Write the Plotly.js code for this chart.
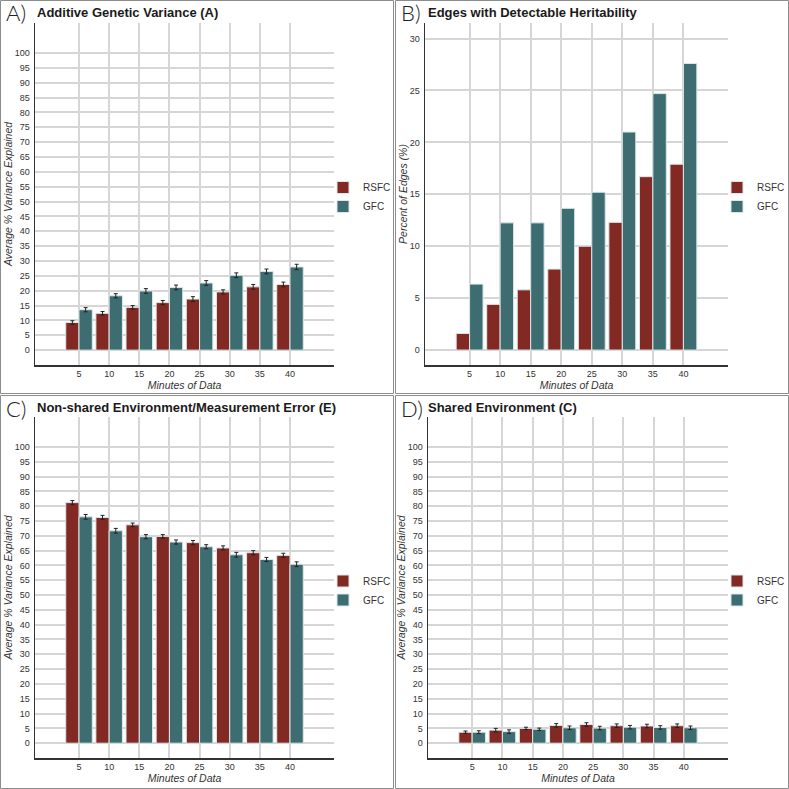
<!DOCTYPE html>
<html>
<head>
<meta charset="utf-8">
<script src="https://cdn.plot.ly/plotly-3.0.1.min.js"></script>
<style>html,body{margin:0;padding:0;background:#fff}#chart{width:789px;height:789px}</style>
</head>
<body>
<div id="chart"></div>
<script>
// ---- data ----
const minutes = ['5','10','15','20','25','30','35','40'];
const seriesNames = ['RSFC','GFC'];

const addA_rsfc = [9.3, 12.4, 14.4, 16.0, 17.2, 19.6, 21.3, 22.1];
const addA_gfc  = [13.6, 18.3, 19.9, 21.1, 22.6, 25.2, 26.5, 28.0];
const addA_rsfc_err = [0.6, 0.6, 0.6, 0.7, 0.8, 0.7, 0.8, 0.8];
const addA_gfc_err  = [0.7, 0.7, 0.8, 0.8, 0.8, 0.8, 0.8, 0.9];

const edges_rsfc = [1.6, 4.4, 5.8, 7.8, 10.0, 12.3, 16.7, 17.9];
const edges_gfc  = [6.35, 12.25, 12.25, 13.65, 15.2, 21.0, 24.7, 27.6];

const envE_rsfc = [81.2, 76.2, 73.7, 69.8, 67.7, 65.9, 64.3, 63.4];
const envE_gfc  = [76.4, 71.7, 69.7, 67.9, 66.3, 63.6, 62.0, 60.4];
const envE_rsfc_err = [0.7, 0.7, 0.6, 0.6, 0.7, 0.7, 0.7, 0.7];
const envE_gfc_err  = [0.8, 0.8, 0.7, 0.7, 0.7, 0.8, 0.7, 0.8];

const envC_rsfc = [3.7, 4.4, 5.0, 6.0, 6.3, 5.9, 5.8, 5.9];
const envC_gfc  = [3.7, 3.9, 4.7, 5.2, 5.1, 5.4, 5.3, 5.2];
const envC_rsfc_err = [0.4, 0.6, 0.4, 0.6, 0.6, 0.6, 0.6, 0.6];
const envC_gfc_err  = [0.5, 0.6, 0.4, 0.6, 0.6, 0.6, 0.6, 0.6];

const panelLetters = ['A)','B)','C)','D)'];
const panelTitles = ['Additive Genetic Variance (A)','Edges with Detectable Heritability',
  'Non-shared Environment/Measurement Error (E)','Shared Environment (C)'];
const yTitles = ['Average % Variance Explained','Percent of Edges (%)',
  'Average % Variance Explained','Average % Variance Explained'];
const xTitle = 'Minutes of Data';
const ticks100 = [0,5,10,15,20,25,30,35,40,45,50,55,60,65,70,75,80,85,90,95,100];
const ticks30 = [0,5,10,15,20,25,30];

// ---- styling ----
const W = 789, H = 789;
const px = v => v / W;
const py = v => 1 - v / H;
const RED = '#812922', TEAL = '#3d6d70';
const FONT = 'Liberation Sans, Arial, sans-serif';

const panels = [
  {x0:35, x1:334, y0:23, y1:365},
  {x0:425, x1:728, y0:23, y1:365},
  {x0:35, x1:334, y0:417, y1:758},
  {x0:428, x1:728, y0:417, y1:758}
];

const data = [];
const seriesSets = [
  [addA_rsfc, addA_gfc, addA_rsfc_err, addA_gfc_err],
  [edges_rsfc, edges_gfc, null, null],
  [envE_rsfc, envE_gfc, envE_rsfc_err, envE_gfc_err],
  [envC_rsfc, envC_gfc, envC_rsfc_err, envC_gfc_err]
];
seriesSets.forEach((s, i) => {
  const sfx = i === 0 ? '' : String(i + 1);
  [0,1].forEach(k => {
    const tr = {
      type: 'bar', x: minutes, y: s[k], name: seriesNames[k],
      xaxis: 'x' + sfx, yaxis: 'y' + sfx,
      legend: 'legend' + sfx,
      marker: {color: k === 0 ? RED : TEAL, line: {color: '#dce8e8', width: 1}},
      hoverinfo: 'y'
    };
    if (s[k+2]) tr.error_y = {type: 'data', array: s[k+2], visible: true, color: '#222', thickness: 1, width: 2};
    data.push(tr);
  });
});

const layout = {
  width: W, height: H,
  margin: {l:0, r:0, t:0, b:0, autoexpand: false},
  paper_bgcolor: '#fff', plot_bgcolor: '#fff',
  barmode: 'group', bargap: 0.12, bargroupgap: 0,
  font: {family: FONT, color: '#222'},
  annotations: [], shapes: []
};

panels.forEach((p, i) => {
  const sfx = i === 0 ? '' : String(i + 1);
  layout['xaxis' + sfx] = {
    type: 'category', domain: [px(p.x0), px(p.x1)], range: [-1.46, 8.46],
    anchor: 'y' + sfx, showgrid: true, gridcolor: '#d6d6d6', gridwidth: 2,
    showline: true, linecolor: '#333', linewidth: 1.5, ticks: '', automargin: true,
    tickfont: {size: 9, color: '#333', family: FONT}, ticklabelstandoff: 0,
    title: {text: xTitle, font: {size: 10.5, color: '#333', family: FONT, style: 'italic'}, standoff: 0},
    fixedrange: true, zeroline: false
  };
  const is30 = i === 1;
  layout['yaxis' + sfx] = {
    domain: [py(p.y1), py(p.y0)], range: is30 ? [-1.44, 31.5] : [-5, 110.1],
    anchor: 'x' + sfx, tickmode: 'array', tickvals: is30 ? ticks30 : ticks100,
    showgrid: true, gridcolor: '#d6d6d6', gridwidth: 2, zeroline: false,
    showline: true, linecolor: '#333', linewidth: 1.5, ticks: '', automargin: true,
    tickfont: {size: 9, color: '#333', family: FONT}, ticklabelstandoff: 2,
    title: {text: yTitles[i], font: {size: 10.5, color: '#333', family: FONT, style: 'italic'}, standoff: 0},
    fixedrange: true
  };
  layout['legend' + sfx] = {
    x: px(p.x1 - 11), y: py((p.y0 + p.y1) / 2 - 21), xanchor: 'left', yanchor: 'top',
    font: {size: 10, color: '#333', family: FONT}, bgcolor: 'rgba(0,0,0,0)',
    itemclick: false, itemdoubleclick: false, tracegroupgap: 0
  };
  const top = i < 2 ? 0 : 395;
  const left = i % 2 === 0 ? 0 : 395;
  layout.annotations.push({
    xref: 'paper', yref: 'paper', x: px(left + 4), y: py(top + 13), xanchor: 'left', yanchor: 'middle',
    text: panelLetters[i], showarrow: false,
    font: {size: 22, family: 'Lato, Open Sans, sans-serif', weight: 300, color: '#222'}
  });
  layout.annotations.push({
    xref: 'paper', yref: 'paper', x: px(left + (i % 2 === 0 ? 35 : 31)), y: py(top + 12), xanchor: 'left', yanchor: 'middle',
    text: '<b>' + panelTitles[i] + '</b>', showarrow: false,
    font: {size: 13, family: FONT, color: '#1a1a1a'}
  });
  layout.shapes.push({
    type: 'rect', xref: 'paper', yref: 'paper',
    x0: px(left + 0.5), x1: px(left + 393.5), y0: py(top + 0.5), y1: py(top + 393.5),
    line: {color: '#8c8c8c', width: 1}, fillcolor: 'rgba(0,0,0,0)', layer: 'above'
  });
});

Plotly.newPlot('chart', data, layout, {displayModeBar: false, staticPlot: true});
</script>
</body>
</html>
